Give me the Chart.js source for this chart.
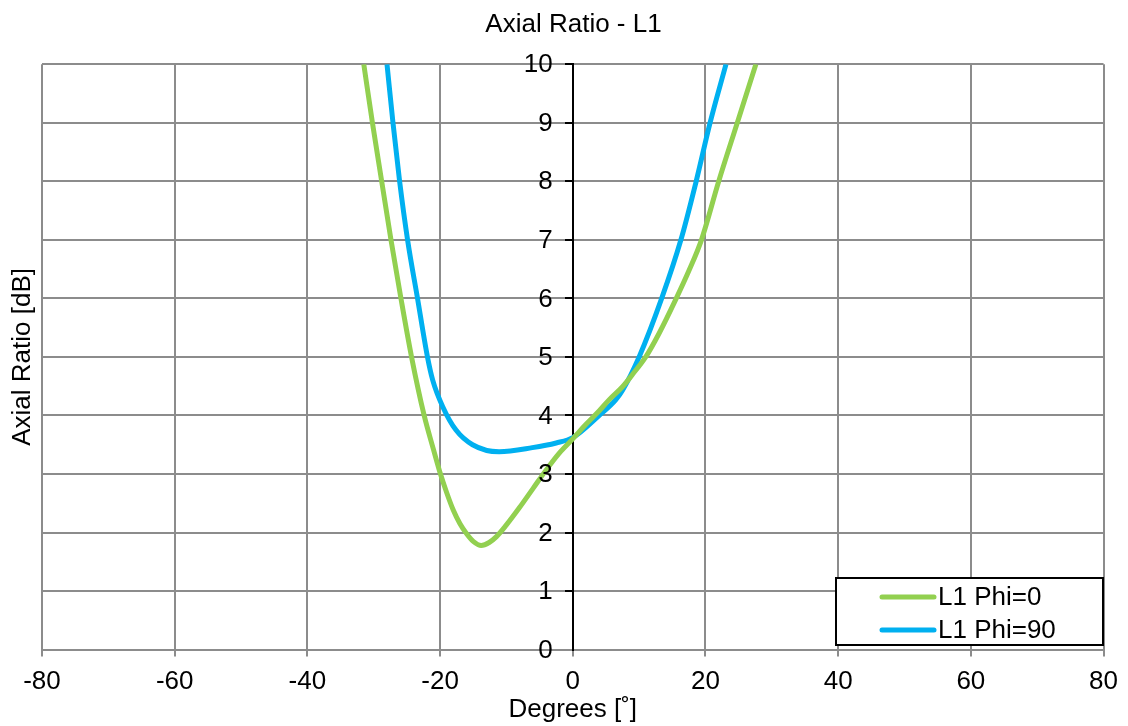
<!DOCTYPE html>
<html>
<head>
<meta charset="utf-8">
<script src="https://cdn.jsdelivr.net/npm/chart.js@4"></script>
<style>
    html, body { margin: 0; padding: 0; background: #fff; }
    #wrap { width: 1128px; height: 726px; }
</style>
</head>
<body>
<div id="wrap"><canvas id="ar-chart"></canvas></div>
<script>
// Значения (градусы / дБ)
const phi0Deg = [-31.5, -30.2, -28.8, -27.4, -25.9, -24.3, -22.4, -21, -20, -19, -18, -17, -16, -15, -13.8, -12.6, -11.5, -10, -8, -6, -4, -2, 0, 2, 4, 5.5, 7.5, 9, 11.0, 13, 15.6, 17.5, 19.4, 22.0, 24.8, 27.6];
const phi0Ar  = [10.0, 9.0, 8.0, 7.0, 6.0, 5.0, 4.0, 3.42, 3.02, 2.68, 2.38, 2.15, 1.98, 1.85, 1.78, 1.83, 1.93, 2.13, 2.43, 2.75, 3.07, 3.36, 3.6, 3.85, 4.08, 4.27, 4.49, 4.7, 5.0, 5.4, 6.0, 6.47, 7.0, 8.0, 9.0, 10.0];

const phi90Deg = [-28.0, -27.1, -26.1, -24.9, -23.4, -21.9, -21.1, -19.6, -17.6, -15.1, -11.1, -6.1, -2.5, 0, 4.0, 6.5, 7.5, 10.0, 13.4, 16.3, 18.6, 20.7, 23.1];
const phi90Ar  = [10.0, 9.0, 8.0, 7.0, 6.0, 5.0, 4.6, 4.15, 3.75, 3.5, 3.38, 3.45, 3.53, 3.62, 4.0, 4.27, 4.43, 5.0, 6.0, 7.0, 8.0, 9.0, 10.0];

const seriesLabels = ['L1 Phi=0', 'L1 Phi=90'];
const seriesColors = ['#92D050', '#00B0F0'];
const xTicks = [-80, -60, -40, -20, 0, 20, 40, 60, 80];
const yTicks = [0, 1, 2, 3, 4, 5, 6, 7, 8, 9, 10];

const FONT = '"Liberation Sans", Arial, sans-serif';
const FONT_SIZE = 26;
const GRID = '#8c8c8c';

function toPoints(xs, ys) {
    return xs.map((x, i) => ({ x: x, y: ys[i] }));
}

// Подписи оси Y у центральной оси, заголовок оси Y и легенда
const extrasPlugin = {
    id: 'extras',
    afterDraw(chart) {
        const ctx = chart.ctx;
        const area = chart.chartArea;
        const xScale = chart.scales.x;
        const yScale = chart.scales.y;
        const axisX = xScale.getPixelForValue(0);

        ctx.save();
        ctx.fillStyle = '#000';
        ctx.font = FONT_SIZE + 'px ' + FONT;
        ctx.textAlign = 'right';
        ctx.textBaseline = 'middle';
        yTicks.forEach(v => {
            ctx.fillText(String(v), axisX - 20, yScale.getPixelForValue(v) + 1);
        });
        ctx.restore();

        // Заголовок оси Y
        ctx.save();
        ctx.fillStyle = '#000';
        ctx.font = FONT_SIZE + 'px ' + FONT;
        ctx.textAlign = 'center';
        ctx.textBaseline = 'middle';
        ctx.translate(23, (area.top + area.bottom) / 2);
        ctx.rotate(-Math.PI / 2);
        ctx.fillText('Axial Ratio [dB]', 0, 0);
        ctx.restore();

        // Легенда
        ctx.save();
        const bx = 836, by = 578, bw = 267, bh = 67;
        ctx.fillStyle = '#fff';
        ctx.fillRect(bx, by, bw, bh);
        ctx.strokeStyle = '#000';
        ctx.lineWidth = 2;
        ctx.strokeRect(bx, by, bw, bh);
        ctx.font = FONT_SIZE + 'px ' + FONT;
        ctx.textBaseline = 'middle';
        ctx.textAlign = 'left';
        chart.data.datasets.forEach((ds, i) => {
            const y = by + 19 + i * 33;
            ctx.strokeStyle = ds.borderColor;
            ctx.lineWidth = 5;
            ctx.lineCap = 'round';
            ctx.beginPath();
            ctx.moveTo(882, y);
            ctx.lineTo(934, y);
            ctx.stroke();
            ctx.fillStyle = '#000';
            ctx.fillText(ds.label, 938, y + 1);
        });
        ctx.restore();
    }
};

const ctx = document.getElementById('ar-chart').getContext('2d');
const arChart = new Chart(ctx, {
    type: 'line',
    data: {
        datasets: [
            {
                label: seriesLabels[0],
                data: toPoints(phi0Deg, phi0Ar),
                borderColor: seriesColors[0],
                borderWidth: 5,
                pointRadius: 0,
                cubicInterpolationMode: 'monotone',
                fill: false,
            },
            {
                label: seriesLabels[1],
                data: toPoints(phi90Deg, phi90Ar),
                borderColor: seriesColors[1],
                borderWidth: 5,
                pointRadius: 0,
                cubicInterpolationMode: 'monotone',
                fill: false,
            }
        ]
    },
    options: {
        responsive: true,
        maintainAspectRatio: false,
        animation: false,
        devicePixelRatio: 1,
        layout: {
            padding: { left: 42, right: 23, top: 0, bottom: 0 }
        },
        plugins: {
            legend: { display: false },
            tooltip: { enabled: false },
            title: {
                display: true,
                text: 'Axial Ratio - L1',
                color: '#000',
                font: { family: FONT, size: FONT_SIZE, weight: 'normal' },
                padding: { top: 9, bottom: 24 }
            }
        },
        scales: {
            x: {
                type: 'linear',
                min: -80,
                max: 80,
                afterBuildTicks: axis => { axis.ticks = xTicks.map(v => ({ value: v })); },
                ticks: {
                    color: '#000',
                    font: { family: FONT, size: FONT_SIZE },
                    padding: 10,
                    maxRotation: 0
                },
                grid: { color: GRID, lineWidth: 2, tickLength: 7, tickColor: GRID },
                border: { color: GRID, width: 2 },
                title: {
                    display: true,
                    text: 'Degrees [˚]',
                    color: '#000',
                    font: { family: FONT, size: FONT_SIZE },
                    padding: { top: -14, bottom: 1 }
                }
            },
            y: {
                type: 'linear',
                position: { x: 0 },
                min: 0,
                max: 10,
                afterBuildTicks: axis => { axis.ticks = yTicks.map(v => ({ value: v })); },
                ticks: { display: false },
                grid: { color: GRID, lineWidth: 2, tickLength: 7, tickColor: '#000' },
                border: { color: '#000', width: 2 }
            }
        }
    },
    plugins: [extrasPlugin]
});
</script>
</body>
</html>
